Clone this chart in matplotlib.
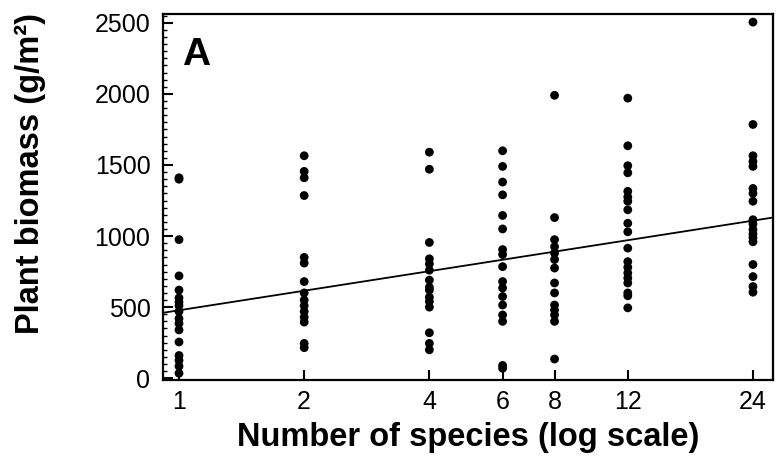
import matplotlib
matplotlib.use("Agg")
import matplotlib.pyplot as plt
from matplotlib.ticker import FixedLocator, NullLocator, MultipleLocator
import numpy as np

# species richness levels (x positions, log scale)
species_levels = [1, 2, 4, 6, 8, 12, 24]
tick_labels = ['1', '2', '4', '6', '8', '12', '24']

# plant biomass (g/m2) per plot
biomass_1 = [1410, 1400, 975, 720, 620, 565, 535, 510, 470, 420, 385, 340, 255, 160, 125, 85, 35]
biomass_2 = [1565, 1455, 1410, 1285, 850, 810, 680, 600, 550, 510, 470, 430, 395, 245, 215]
biomass_4 = [1590, 1470, 955, 840, 805, 760, 690, 640, 620, 570, 540, 500, 320, 245, 200]
biomass_6 = [1600, 1490, 1380, 1290, 1145, 1050, 905, 870, 785, 680, 635, 575, 515, 445, 400, 90, 70]
biomass_8 = [1990, 1130, 975, 925, 880, 835, 775, 670, 600, 515, 480, 445, 400, 135]
biomass_12 = [1970, 1635, 1495, 1445, 1315, 1275, 1245, 1185, 1090, 1030, 915, 820, 780, 740,
              705, 670, 600, 580, 495]
biomass_24 = [2505, 1785, 1565, 1525, 1490, 1335, 1300, 1245, 1115, 1085, 1045, 1015, 990, 960,
              800, 715, 645, 605]

# fitted line: biomass = intercept + slope * log2(species)
fit_intercept = 478
fit_slope = 137.5

groups = [biomass_1, biomass_2, biomass_4, biomass_6, biomass_8, biomass_12, biomass_24]

plt.rcParams['font.family'] = ['Liberation Sans', 'DejaVu Sans']

fig = plt.figure(figsize=(7.76, 4.62), dpi=100)
ax = fig.add_axes([0.210, 0.177, 0.786, 0.793])

for n, vals in zip(species_levels, groups):
    ax.scatter([n] * len(vals), vals, s=40, color='black', edgecolors='none', zorder=3)

ax.set_xscale('log')
ax.set_xlim(0.915, 26.8)
ax.set_ylim(-14, 2563)

xs = np.array(ax.get_xlim())
ax.plot(xs, fit_intercept + fit_slope * np.log2(xs), color='black', lw=1.3, zorder=2)

ax.xaxis.set_major_locator(FixedLocator(species_levels))
ax.set_xticklabels(tick_labels)
ax.xaxis.set_minor_locator(NullLocator())
ax.yaxis.set_major_locator(MultipleLocator(500))
ax.yaxis.set_minor_locator(MultipleLocator(50))

ax.tick_params(axis='both', which='major', direction='in', length=7, width=1.5,
               labelsize=18, colors='black')
ax.tick_params(axis='x', which='major', pad=7)
ax.tick_params(axis='y', which='major', pad=9)
ax.tick_params(axis='y', which='minor', direction='in', length=3, width=1)
for sp in ax.spines.values():
    sp.set_linewidth(1.6)

ax.set_xlabel('Number of species (log scale)', fontsize=23.5, fontweight='bold', labelpad=6)
ax.set_ylabel('Plant biomass (g/m²)', fontsize=23.5, fontweight='bold')
ax.yaxis.set_label_coords(-0.191, 0.563)

ax.text(0.031, 0.937, 'A', transform=ax.transAxes, fontsize=28, fontweight='bold',
        ha='left', va='top')

fig.savefig('out.png', dpi=100, facecolor='white')
